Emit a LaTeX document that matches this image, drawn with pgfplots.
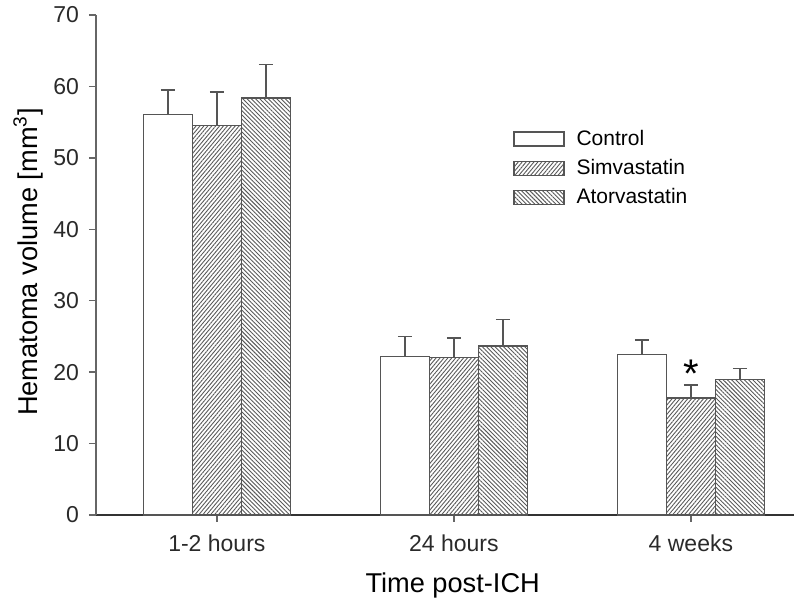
\documentclass[border=0pt]{standalone}
\usepackage{fontspec}
\setmainfont{Liberation Sans}
\usepackage{pgfplots}
\pgfplotsset{compat=1.18}
\usetikzlibrary{patterns.meta}
\definecolor{barline}{HTML}{555555}
\definecolor{axisdark}{HTML}{333333}
\definecolor{txt}{HTML}{2a2a2a}
\pgfplotsset{boxlegend/.style={/pgfplots/legend image code/.code={\draw[##1] (0pt,-3.5pt) rectangle (25pt,3.5pt);}}}
\begin{document}
\begin{tikzpicture}
\begin{axis}[
  scale only axis, width=349pt, height=250pt,
  xmin=-0.51, xmax=2.435, ymin=0, ymax=70,
  axis x line*=bottom, axis y line*=left,
  x axis line style={axisdark, line width=1.3pt},
  y axis line style={gray!80!black, line width=0.7pt},
  ybar=0pt, bar width=24.5pt,
  xtick={0,1,2}, xticklabels={1-2 hours,24 hours,4 weeks},
  ytick={0,10,...,70},
  tick align=outside, major tick length=3.5pt,
  tick style={gray!80!black, line width=0.7pt},
  /pgf/number format/assume math mode=true,
  ticklabel style={font=\fontsize{11.5}{13}\selectfont, text=txt},
  xticklabel style={yshift=-3pt},
  yticklabel style={xshift=-1.5pt},
  xlabel={Time post-ICH},
  ylabel={Hematoma volume [mm\textsuperscript{3}]},
  label style={font=\fontsize{13.6}{16}\selectfont, text=black},
  xlabel style={at={(axis description cs:0.511,-0.156)}, anchor=base},
  ylabel style={at={(axis description cs:-0.0845,0.506)}, anchor=base},
  legend style={at={(0.597,0.779)}, anchor=north west, draw=none, fill=none,
    font=\fontsize{10.5}{12}\selectfont, row sep=1.5pt, inner sep=0pt,
    /tikz/every odd column/.append style={column sep=4pt}},
  legend cell align=left,
  error bars/y dir=plus, error bars/y explicit,
  error bars/error bar style={barline, line width=0.7pt, solid},
  error bars/error mark options={barline, line width=0.7pt, mark size=3.5pt, rotate=90},
  clip=false,
]
\addplot[draw=barline, line width=0.7pt, fill=white, boxlegend]
  coordinates {(0,56.1) +- (0,3.4) (1,22.2) +- (0,2.8) (2,22.5) +- (0,2.0)};
\addlegendentry{Control}
\addplot[draw=barline, line width=0.7pt,
  pattern={Lines[angle=50, distance=1.5pt, line width=0.45pt]}, pattern color=gray!70!black, boxlegend]
  coordinates {(0,54.55) +- (0,4.65) (1,22.05) +- (0,2.75) (2,16.4) +- (0,1.8)};
\addlegendentry{Simvastatin}
\addplot[draw=barline, line width=0.7pt,
  pattern={Lines[angle=-45, distance=1.5pt, line width=0.45pt]}, pattern color=gray!70!black, boxlegend]
  coordinates {(0,58.4) +- (0,4.7) (1,23.65) +- (0,3.75) (2,19.0) +- (0,1.5)};
\addlegendentry{Atorvastatin}
\node[font=\fontsize{20}{20}\selectfont, text=black] at (axis cs:2,19.8) {*};
\end{axis}
\pgfresetboundingbox
\path[use as bounding box] ([shift={(-48pt,-46pt)}]current axis.south west) rectangle ([shift={(3pt,7.5pt)}]current axis.north east);
\end{tikzpicture}
\end{document}
